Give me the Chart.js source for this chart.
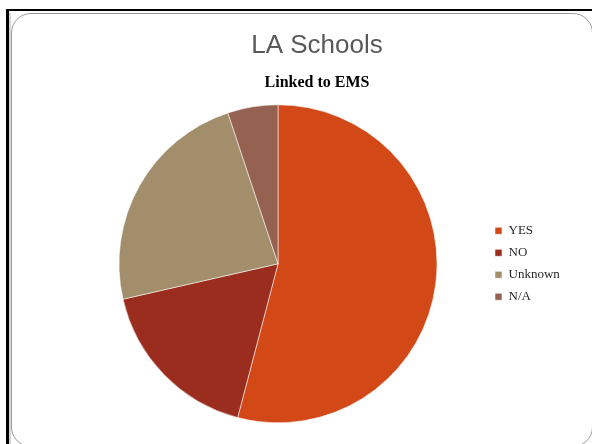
<!DOCTYPE html>
<html>
<head>
<meta charset="utf-8">
<title>LA Schools</title>
<script src="https://cdn.jsdelivr.net/npm/chart.js@4.4.1/dist/chart.umd.min.js"></script>
<style>
body{margin:0;width:592px;height:444px;overflow:hidden;background:#fff;position:relative;}
.frame{position:absolute;left:6px;top:9px;width:600px;height:450px;border-left:3px solid #000;border-top:2px solid #000;}
.shade{position:absolute;left:9px;top:13px;width:2px;height:440px;background:#d6d6d6;}
.card{position:absolute;left:11px;top:13px;width:580px;height:432px;border:1px solid #9c9c9c;border-radius:20px;}
#pieChart{position:absolute;left:0;top:0;}
</style>
</head>
<body>
<div class="frame"></div>
<div class="shade"></div>
<div class="card"></div>
<canvas id="pieChart" width="592" height="437"></canvas>

<script>
// slide data
const slideTitle = "LA Schools";
const chartTitle = "Linked to EMS";
const categories = ["YES","NO","Unknown","N/A"];
const schoolCounts = [53,17,23,5];
const sliceColors = ["#d34817","#9b2d1f","#a28e6a","#956251"];

let pieChart;

function createChart(){

pieChart = new Chart(document.getElementById("pieChart"),{

type:"pie",

data:{
labels:categories,
datasets:[{
data:schoolCounts,
backgroundColor:sliceColors,
borderColor:"rgba(255,255,255,0.55)",
borderWidth:1
}]
},

options:{
responsive:false,
animation:false,
radius:159,
layout:{padding:{left:70,right:28,top:0,bottom:0}},
plugins:{
title:{
display:true,
text:slideTitle,
color:"#595959",
font:{family:"'Liberation Sans', Arial, sans-serif",size:26,weight:"normal",lineHeight:1},
padding:{top:33,bottom:0}
},
subtitle:{
display:true,
text:chartTitle,
color:"#000",
font:{family:"'Liberation Serif', 'Times New Roman', serif",size:16,weight:"bold",lineHeight:1},
padding:{top:15.6,bottom:0}
},
legend:{
position:"right",
fullSize:false,
maxWidth:78,
labels:{
boxWidth:7,
boxHeight:7,
padding:9,
color:"#262626",
font:{family:"'Liberation Serif', 'Times New Roman', serif",size:13}
}
},
tooltip:{enabled:false}
}
}

});

}

createChart();
</script>
</body>
</html>
